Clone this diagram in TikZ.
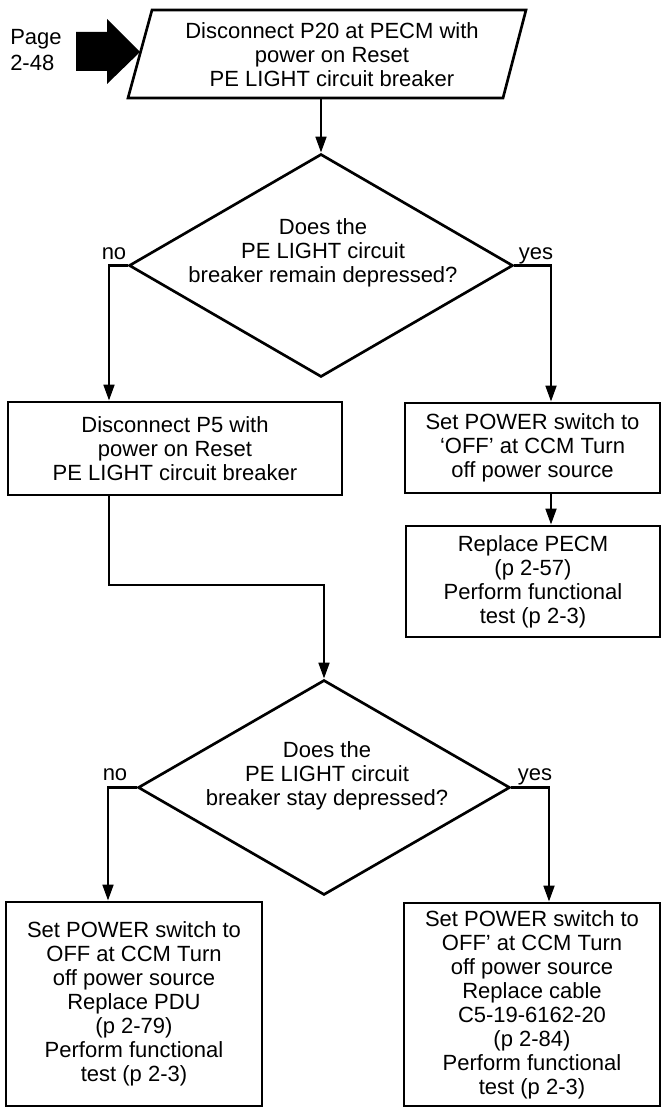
\documentclass[tikz,border=0pt]{standalone}
\usepackage{fontspec}
\setmainfont{Liberation Sans}
\usetikzlibrary{arrows.meta,shapes.geometric,calc}
\newcommand{\fsz}{\fontsize{16.5}{18}\selectfont}
\tikzset{
  ln/.style={line width=2pt},
  arr/.style={ln, -{Triangle[length=12pt,width=8pt]}},
  boxnode/.style={draw, line width=2pt, rectangle, inner sep=0pt, align=center, font=\fsz},
  txt/.style={align=center, font=\fsz, inner sep=0pt},
  dianode/.style={draw, diamond, line width=2pt, inner sep=0pt},
  lbl/.style={font=\fsz, inner sep=0pt, anchor=base},
}
\begin{document}
\begin{tikzpicture}[x=0.75pt,y=-0.75pt]
\useasboundingbox (0,0) rectangle (661,1109);

% entry
\node[font=\fontsize{16.5}{19.5}\selectfont, align=left, inner sep=0pt, anchor=north west] (page) at (10,29) {Page\\2-48};
\fill (76,32) -- (107,32) -- (107,19) -- (140,52) -- (107,84) -- (107,71) -- (76,71) -- cycle;

% start parallelogram
\draw[ln, line join=miter] (152,10) -- (526,10) -- (503,98) -- (128,98) -- cycle;
\node[txt] (start) at (332,55) {Disconnect P20 at PECM with\\power on  Reset\\PE LIGHT circuit breaker};
\coordinate (pb) at (321,98);

% decision 1
\node[dianode, minimum width=288pt, minimum height=167.25pt] (d1) at (321,265.5) {};
\node[txt] (d1t) at (323,253) {Does the\\PE LIGHT circuit\\breaker remain depressed?};

% boxes after decision 1
\node[boxnode, minimum width=250.5pt, minimum height=69.75pt] (b1) at (175,448.5)
  {Disconnect P5 with\\power on  Reset\\PE LIGHT circuit breaker};
\node[boxnode, minimum width=191.25pt, minimum height=67.5pt] (b2) at (532.5,448)
  {Set POWER switch to\\`OFF' at CCM  Turn\\off power source};
\node[boxnode, minimum width=190.5pt, minimum height=83.25pt] (b3) at (533,581.5)
  {Replace PECM\\(p  2-57)\\Perform functional\\test (p  2-3)};

% decision 2
\node[dianode, minimum width=279pt, minimum height=161.25pt] (d2) at (324,787.5) {};
\node[txt] (d2t) at (327,776) {Does the\\PE LIGHT circuit\\breaker stay depressed?};

% final boxes
\node[boxnode, minimum width=192pt, minimum height=153pt] (b4) at (134,1004)
  {Set POWER switch to\\OFF  at CCM  Turn\\off power source\\Replace PDU\\(p  2-79)\\Perform functional\\test (p  2-3)};
\node[boxnode, minimum width=192pt, minimum height=152.25pt] (b5) at (532,1004.5)
  {Set POWER switch to\\OFF' at CCM  Turn\\off power source\\Replace cable\\C5-19-6162-20\\(p  2-84)\\Perform functional\\test (p  2-3)};

% x positions of vertical connectors
\coordinate (xl1) at (109,0);
\coordinate (xr1) at (551,0);
\coordinate (xl2) at (108,0);
\coordinate (xr2) at (549,0);
\coordinate (mid) at (324,585);

% connectors
\draw[arr] (pb) -- (d1.north);
\draw[arr] (d1.west) -| (xl1 |- b1.north);
\draw[arr] (d1.east) -| (xr1 |- b2.north);
\draw[arr] (xr1 |- b2.south) -- (xr1 |- b3.north);
\draw[arr] (xl1 |- b1.south) |- (mid) -- (d2.north);
\draw[arr] (d2.west) -| (xl2 |- b4.north);
\draw[arr] (d2.east) -| (xr2 |- b5.north);

% labels
\node[lbl] (no1) at (114,259) {no};
\node[lbl] (yes1) at (536,259) {yes};
\node[lbl] (no2) at (115,780) {no};
\node[lbl] (yes2) at (535,780) {yes};
\end{tikzpicture}
\end{document}
